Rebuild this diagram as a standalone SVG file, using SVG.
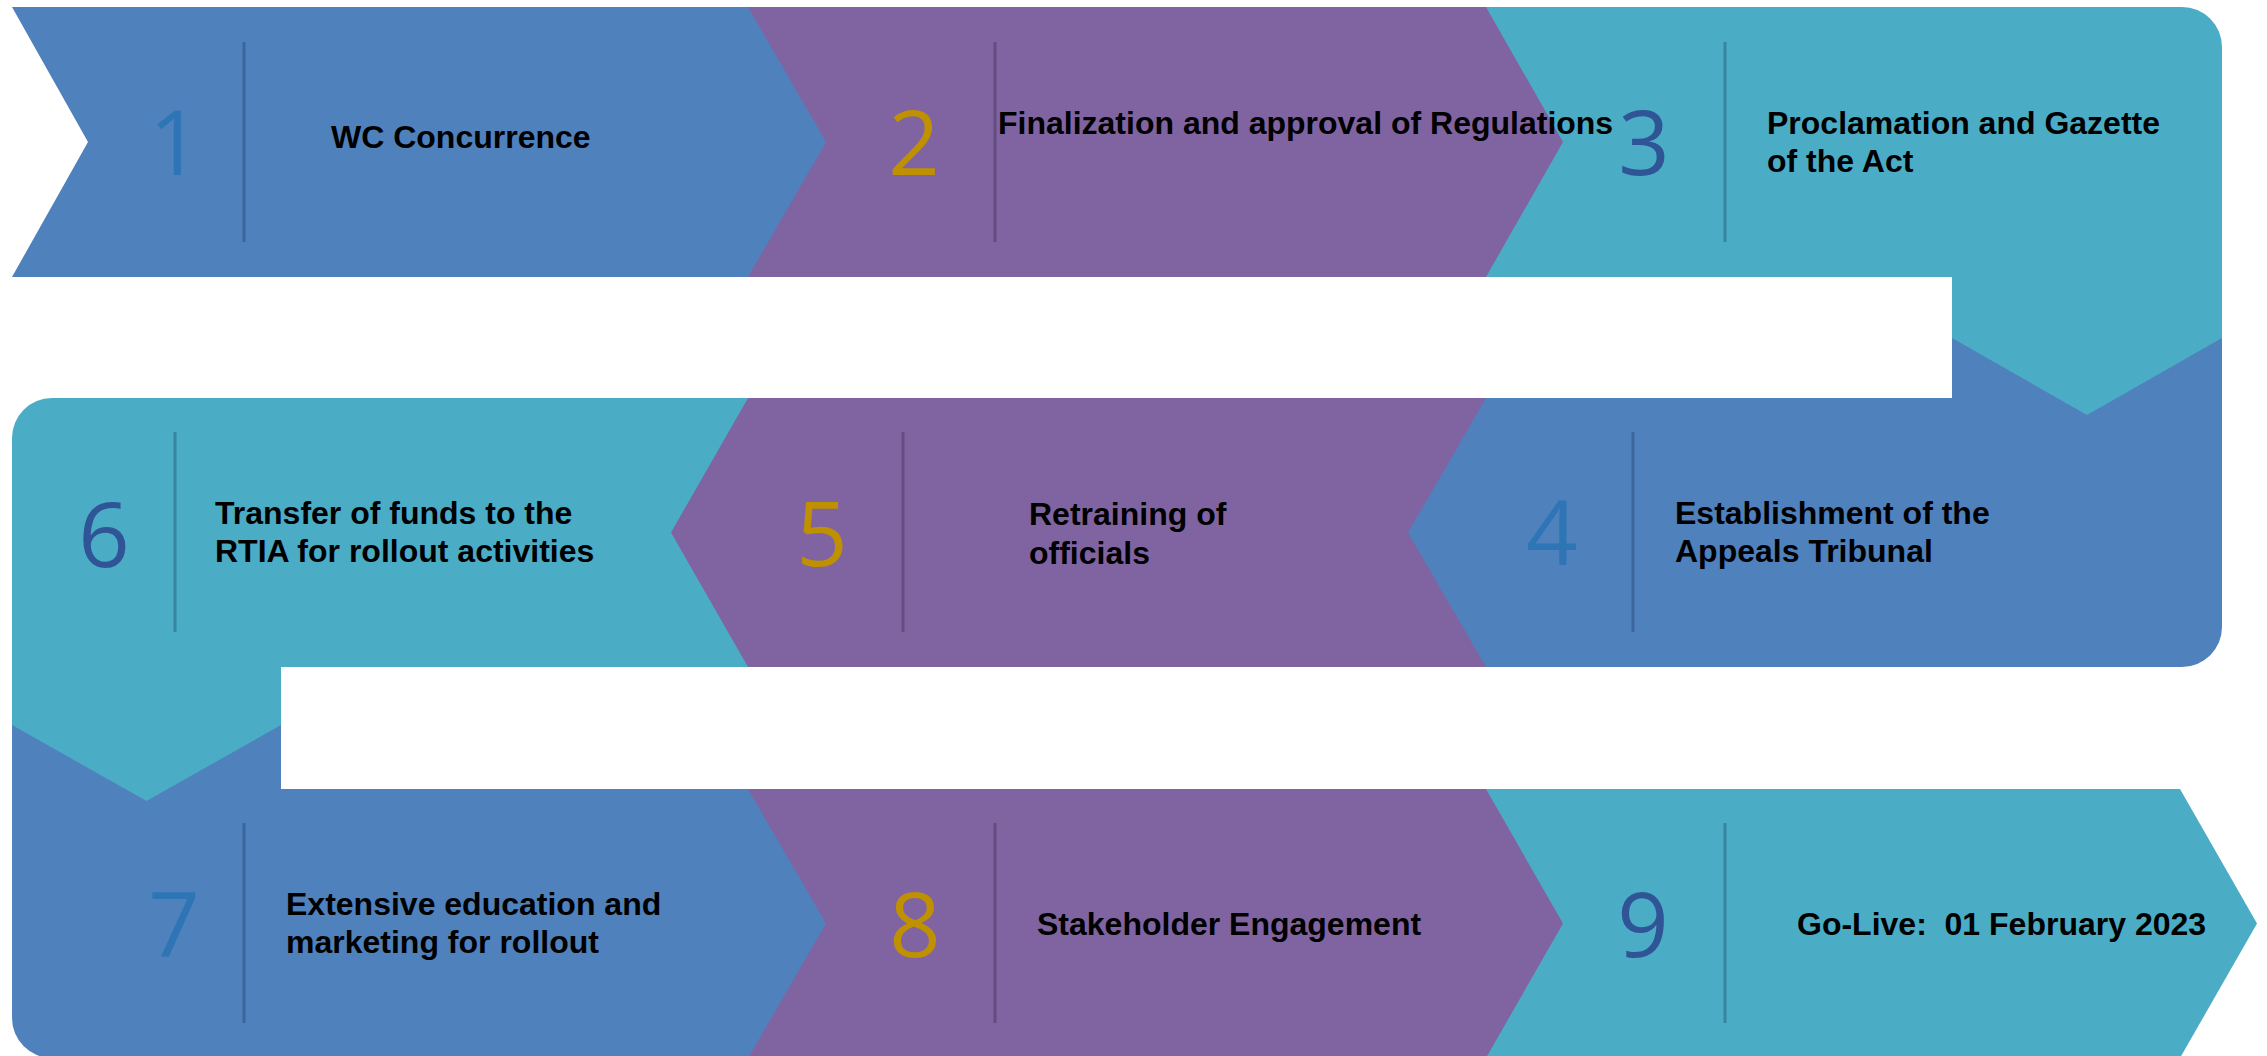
<svg xmlns="http://www.w3.org/2000/svg" width="2267" height="1056" viewBox="0 0 2267 1056">
<style>
.blue{fill:#4F81BD}
.purple{fill:#8064A2}
.teal{fill:#4BACC6}
.sep{stroke-width:3;fill:none}
.sb{stroke:#3D659C}
.sp{stroke:#624C82}
.st{stroke:#3786A0}
.num{font-family:"Open Sans","Noto Sans",sans-serif;font-size:90px;text-anchor:middle}
.n1{fill:#2E75B6}
.n2{fill:#BF9000}
.n3{fill:#2F5597}
.lbl{font-family:"Liberation Sans",Arial,sans-serif;font-weight:bold;font-size:32px;fill:#000;white-space:pre}
</style>
<rect width="2267" height="1056" fill="#fff"/>
<g id="step9">
<path class="teal" d="M1486,789 H2180 L2257,923.5 L2180,1058 H1486 Z"/>
<line class="sep st" x1="1725" y1="823" x2="1725" y2="1023"/>
<text class="num n3" x="1643" y="957">9</text>
<text class="lbl" x="1797" y="935" xml:space="preserve">Go-Live:  01 February 2023</text>
</g>
<g id="step8">
<path class="purple" d="M748,789 H1486 L1563,923.5 L1486,1058 H748 Z"/>
<line class="sep sp" x1="995" y1="823" x2="995" y2="1023"/>
<text class="num n2" x="915" y="957">8</text>
<text class="lbl" x="1037" y="935">Stakeholder Engagement</text>
</g>
<g id="step7">
<path class="blue" d="M281,789 H748 L826,923.5 L748,1058 H52 A40,40 0 0 1 12,1018 V725 H281 Z"/>
<line class="sep sb" x1="244" y1="823" x2="244" y2="1023"/>
<text class="num n1" x="174" y="957">7</text>
<text class="lbl" x="286" y="915">Extensive education and</text>
<text class="lbl" x="286" y="953">marketing for rollout</text>
</g>
<g id="step6">
<path class="teal" d="M52,398 H748 V667 H281 V725 L146.5,801 L12,725 V438 A40,40 0 0 1 52,398 Z"/>
<line class="sep st" x1="175" y1="432" x2="175" y2="632"/>
<text class="num n3" x="104" y="567">6</text>
<text class="lbl" x="215" y="524">Transfer of funds to the</text>
<text class="lbl" x="215" y="562">RTIA for rollout activities</text>
</g>
<g id="step5">
<path class="purple" d="M748,398 H1486 V667 H748 L671,532.5 Z"/>
<line class="sep sp" x1="903" y1="432" x2="903" y2="632"/>
<text class="num n2" x="822" y="566">5</text>
<text class="lbl" x="1029" y="525">Retraining of</text>
<text class="lbl" x="1029" y="564">officials</text>
</g>
<g id="step4">
<path class="blue" d="M1486,398 H1952 V338 H2222 V627 A40,40 0 0 1 2182,667 H1486 L1408,532.5 Z"/>
<line class="sep sb" x1="1633" y1="432" x2="1633" y2="632"/>
<text class="num n1" x="1552" y="565">4</text>
<text class="lbl" x="1675" y="524">Establishment of the</text>
<text class="lbl" x="1675" y="562">Appeals Tribunal</text>
</g>
<g id="step3">
<path class="teal" d="M1486,7 H2182 A40,40 0 0 1 2222,47 V338 L2087,415 L1952,338 V277 H1486 Z"/>
<line class="sep st" x1="1725" y1="42" x2="1725" y2="242"/>
<text class="num n3" x="1644" y="175">3</text>
<text class="lbl" x="1767" y="134">Proclamation and Gazette</text>
<text class="lbl" x="1767" y="172">of the Act</text>
</g>
<g id="step2">
<path class="purple" d="M748,7 H1486 L1563,142 L1486,277 H748 Z"/>
<line class="sep sp" x1="995" y1="42" x2="995" y2="242"/>
<text class="num n2" x="914" y="175">2</text>
<text class="lbl" x="998" y="134">Finalization and approval of Regulations</text>
</g>
<g id="step1">
<path class="blue" d="M12,7 H748 L826,142 L748,277 H12 L88,142 Z"/>
<line class="sep sb" x1="244" y1="42" x2="244" y2="242"/>
<text class="num n1" x="175" y="175">1</text>
<text class="lbl" x="331" y="148">WC Concurrence</text>
</g>
<g id="connectors"/>
</svg>
